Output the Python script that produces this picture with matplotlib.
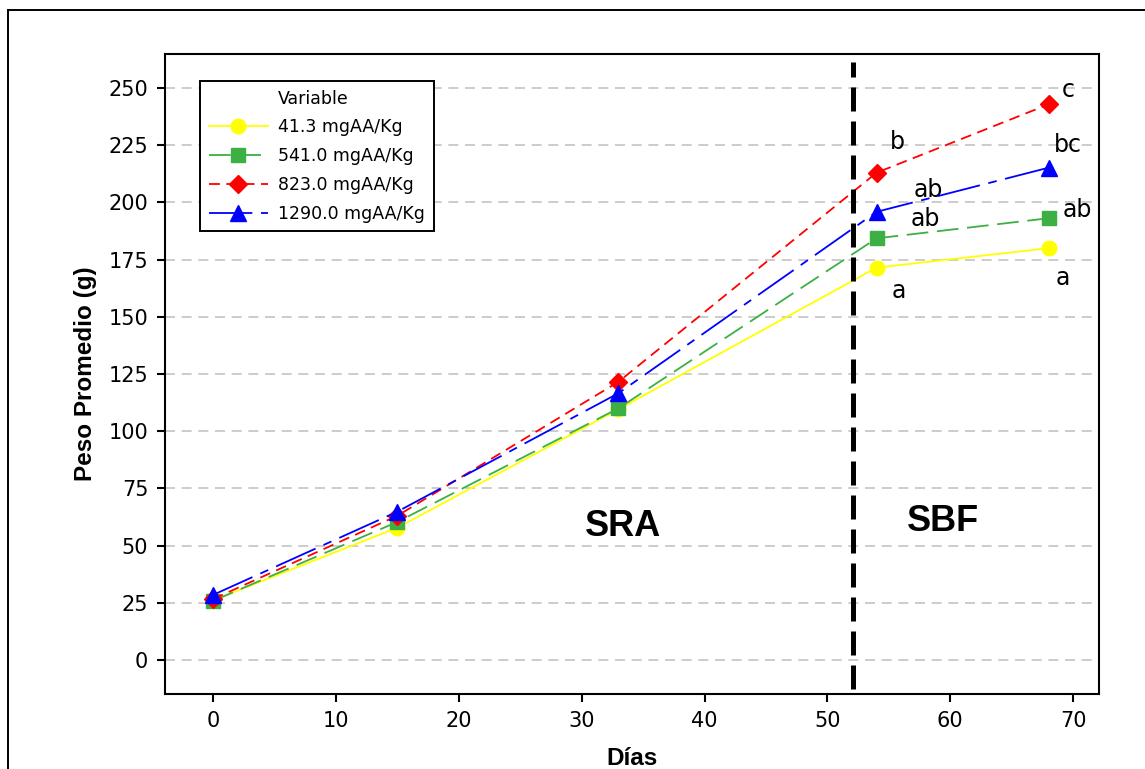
import matplotlib
matplotlib.use("Agg")
import matplotlib.pyplot as plt
from matplotlib.patches import Rectangle

# ── Data ──────────────────────────────────────────────────────────────────────
dias = [0, 15, 33, 54, 68]
series_labels = ["41.3 mgAA/Kg", "541.0 mgAA/Kg", "823.0 mgAA/Kg", "1290.0 mgAA/Kg"]
peso_413 = [26.0, 57.8, 109.6, 171.5, 180.0]
peso_541 = [25.8, 60.3, 110.0, 184.3, 193.1]
peso_823 = [26.6, 63.0, 121.6, 213.0, 242.9]
peso_1290 = [28.4, 64.8, 116.6, 195.9, 215.2]
letras_413 = ["a", "a"]
letras_541 = ["ab", "ab"]
letras_823 = ["b", "c"]
letras_1290 = ["ab", "bc"]
corte_dias = 52.1
y_ticks = [0, 25, 50, 75, 100, 125, 150, 175, 200, 225, 250]
x_ticks = [0, 10, 20, 30, 40, 50, 60, 70]

# ── Style ─────────────────────────────────────────────────────────────────────
COLORS = ["#ffff00", "#3cb043", "#ff0000", "#0000ff"]
MARKERS = ["o", "s", "D", "^"]
MSIZES = [10.5, 9.5, 9.5, 11]
DASHES = [None, (12, 4.8), (6, 3.6), (24, 4.8, 4.8, 4.8)]
# letter offsets (pixels) for the last two points of each series
LETTER_OFFS = [
    [(22, -23), (14, -30)],
    [(49, 19), (29, 8)],
    [(21, 31), (20, 14)],
    [(52, 22), (19, 23)],
]

TICK_FONT = "DejaVu Sans"
BOLD_FONT = "Liberation Sans"

fig = plt.figure(figsize=(11.45, 7.69), dpi=100)
fig.patches.append(Rectangle((8 / 1145, -0.1), 1.2, 1.1 - 10 / 769,
                             transform=fig.transFigure, fill=False,
                             edgecolor="black", linewidth=1.4))
ax = fig.add_axes([165 / 1145, 1 - 694 / 769, 934 / 1145, 640 / 769])

all_series = [peso_413, peso_541, peso_823, peso_1290]
all_letters = [letras_413, letras_541, letras_823, letras_1290]

handles = []
for i, vals in enumerate(all_series):
    kw = dict(color=COLORS[i], marker=MARKERS[i], markersize=MSIZES[i],
              markeredgecolor=COLORS[i], linewidth=1.3, label=series_labels[i],
              zorder=3 + i)
    if DASHES[i] is not None:
        kw["dashes"] = DASHES[i]
    ln, = ax.plot(dias, vals, **kw)
    handles.append(ln)
    for k, (lt, off) in enumerate(zip(all_letters[i], LETTER_OFFS[i])):
        j = len(dias) - 2 + k
        ax.annotate(lt, (dias[j], vals[j]), xytext=off, textcoords="offset pixels",
                    ha="center", va="center", fontsize=17, family=TICK_FONT)

ax.axvline(corte_dias, ymin=0.008, ymax=0.988, color="black", linewidth=3.6,
           dashes=(4.8, 2.0), zorder=8)

ax.text(33.4, 58.5, "SRA", fontsize=26, fontweight="bold", family=BOLD_FONT,
        ha="center", va="center")
ax.text(59.4, 60.5, "SBF", fontsize=26, fontweight="bold", family=BOLD_FONT,
        ha="center", va="center")

ax.set_xlim(-3.9, 72.1)
ax.set_ylim(-14.9, 264.9)
ax.set_xticks(x_ticks)
ax.set_yticks(y_ticks)
ax.yaxis.grid(True, color="#c4c4c4", linewidth=1.2, dashes=(6, 4))
ax.set_axisbelow(True)
ax.tick_params(axis="both", direction="out", length=6, width=1.5, labelsize=15,
               pad=6)
for lab in ax.get_xticklabels() + ax.get_yticklabels():
    lab.set_family(TICK_FONT)
for sp in ax.spines.values():
    sp.set_linewidth(1.5)

ax.set_xlabel("Días", fontsize=17.5, fontweight="bold", family=BOLD_FONT, labelpad=12)
ax.set_ylabel("Peso Promedio (g)", fontsize=17.5, fontweight="bold", family=BOLD_FONT,
              labelpad=8)

# legend with "Variable" as a header row in the text column
header, = ax.plot([], [], color="none", label="Variable")
leg = fig.legend([header] + handles, ["Variable"] + series_labels,
                 loc="upper left", bbox_to_anchor=(200 / 1145, 1 - 81 / 769),
                 borderaxespad=0, fancybox=False, edgecolor="black",
                 framealpha=1, handlelength=3.4,
                 handletextpad=0.6, labelspacing=0.62, borderpad=0.5,
                 prop={"family": TICK_FONT, "size": 12.5})
leg.get_frame().set_linewidth(1.4)

fig.savefig("out.png", dpi=100)
